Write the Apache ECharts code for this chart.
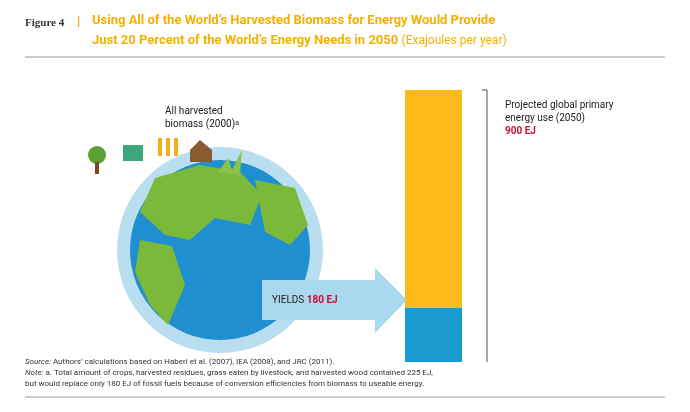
<!DOCTYPE html><html><head><meta charset="utf-8">
<script src="https://cdn.jsdelivr.net/npm/echarts@6/dist/echarts.min.js"></script>
<style>html,body{margin:0;background:#fff}#c{width:690px;height:412px}</style></head><body><div id="c"></div>
<script>
const categories=['Energy'];
const biomassYield=[180];
const remainingNeed=[720];
const totalNeed=900;
const ch=echarts.init(document.getElementById('c'));
const F='Roboto, Liberation Sans, sans-serif';
const txt=(x,y,t,s)=>({type:'text',left:x,top:y,style:Object.assign({text:t,font:'10px '+F,fill:'#222'},s||{})});
const cx=220,cy=250;
ch.setOption({
 animation:false,
 grid:{left:405,width:57,top:90,bottom:50},
 xAxis:{type:'category',data:categories,show:false},
 yAxis:{type:'value',min:0,max:totalNeed,show:false},
 series:[
  {type:'bar',stack:'a',data:biomassYield,barWidth:57,itemStyle:{color:'#1a9bd0'}},
  {type:'bar',stack:'a',data:remainingNeed,barWidth:57,itemStyle:{color:'#fbb91a'}}
 ],
 graphic:[
  txt(25,18,'Figure 4',{font:'bold 11px Liberation Serif, serif',fill:'#333'}),
  txt(77,15,'|',{font:'bold 13px '+F,fill:'#f5a800'}),
  {type:'text',left:92,top:14,style:{rich:{t:{font:'bold 13px '+F,fill:'#f5b000',lineHeight:20},u:{font:'12px '+F,fill:'#f5b000'}},text:'{t|Using All of the World\u2019s Harvested Biomass for Energy Would Provide}\n{t|Just 20 Percent of the World\u2019s Energy Needs in 2050} {u|(Exajoules per year)}'}},
  {type:'line',shape:{x1:25,y1:57,x2:665,y2:57},style:{stroke:'#999',lineWidth:1}},
  {type:'line',shape:{x1:25,y1:397,x2:665,y2:397},style:{stroke:'#999',lineWidth:1}},
  {type:'circle',shape:{cx:cx,cy:cy,r:103},style:{fill:'#b9def0'}},
  {type:'circle',shape:{cx:cx,cy:cy,r:90},style:{fill:'#1f8fcf'}},
  {type:'polygon',shape:{points:[[155,178],[200,165],[240,172],[262,195],[250,225],[215,218],[190,240],[165,235],[140,212]]},style:{fill:'#7bb93a'}},
  {type:'polygon',shape:{points:[[140,240],[172,246],[185,285],[168,325],[150,305],[135,272]]},style:{fill:'#7bb93a'}},
  {type:'polygon',shape:{points:[[255,180],[295,188],[308,225],[290,245],[265,232]]},style:{fill:'#7bb93a'}},
  {type:'polygon',shape:{points:[[262,280],[375,280],[375,268],[407,300],[375,333],[375,320],[262,320]]},style:{fill:'#a9d8ef'}},
  txt(272,295,'',{rich:{a:{font:'10px '+F,fill:'#222'},b:{font:'bold 10px '+F,fill:'#c8102e'}},text:'{a|YIELDS }{b|180 EJ}'}),
  txt(165,105,'All harvested\nbiomass (2000)\u1d43',{align:'center',lineHeight:13,font:'10px '+F}),
  {type:'circle',shape:{cx:97,cy:155,r:9},style:{fill:'#5aa032'}},
  {type:'rect',shape:{x:95,y:162,width:4,height:12},style:{fill:'#7a4a22'}},
  {type:'rect',shape:{x:123,y:145,width:20,height:16},style:{fill:'#3aa87a'}},
  {type:'rect',shape:{x:158,y:138,width:4,height:18},style:{fill:'#f0b020'}},
  {type:'rect',shape:{x:166,y:138,width:4,height:18},style:{fill:'#f0b020'}},
  {type:'rect',shape:{x:174,y:138,width:4,height:18},style:{fill:'#f0b020'}},
  {type:'polygon',shape:{points:[[190,150],[200,140],[212,150],[212,162],[190,162]]},style:{fill:'#8a5a32'}},
  {type:'polygon',shape:{points:[[218,172],[228,158],[232,170],[242,150],[240,175]]},style:{fill:'#8cc14a'}},
  {type:'line',shape:{x1:487,y1:90,x2:487,y2:362},style:{stroke:'#555',lineWidth:1}},
  {type:'line',shape:{x1:482,y1:90,x2:487,y2:90},style:{stroke:'#555',lineWidth:1}},
  txt(505,99,'Projected global primary\nenergy use (2050)',{lineHeight:13,font:'10px '+F}),
  txt(505,126,'900 EJ',{font:'bold 10px '+F,fill:'#c8102e'}),
  txt(25,356,'',{lineHeight:11,rich:{i:{font:'italic 8px '+F,fill:'#333'},n:{font:'8px '+F,fill:'#333'}},text:'{i|Source:}{n| Authors\u2019 calculations based on Haberl et al. (2007), IEA (2008), and JRC (2011).}\n{i|Note:}{n| a. Total amount of crops, harvested residues, grass eaten by livestock, and harvested wood contained 225 EJ,}\n{n|but would replace only 180 EJ of fossil fuels because of conversion efficiencies from biomass to useable energy.}'})
 ]
});
</script></body></html>
